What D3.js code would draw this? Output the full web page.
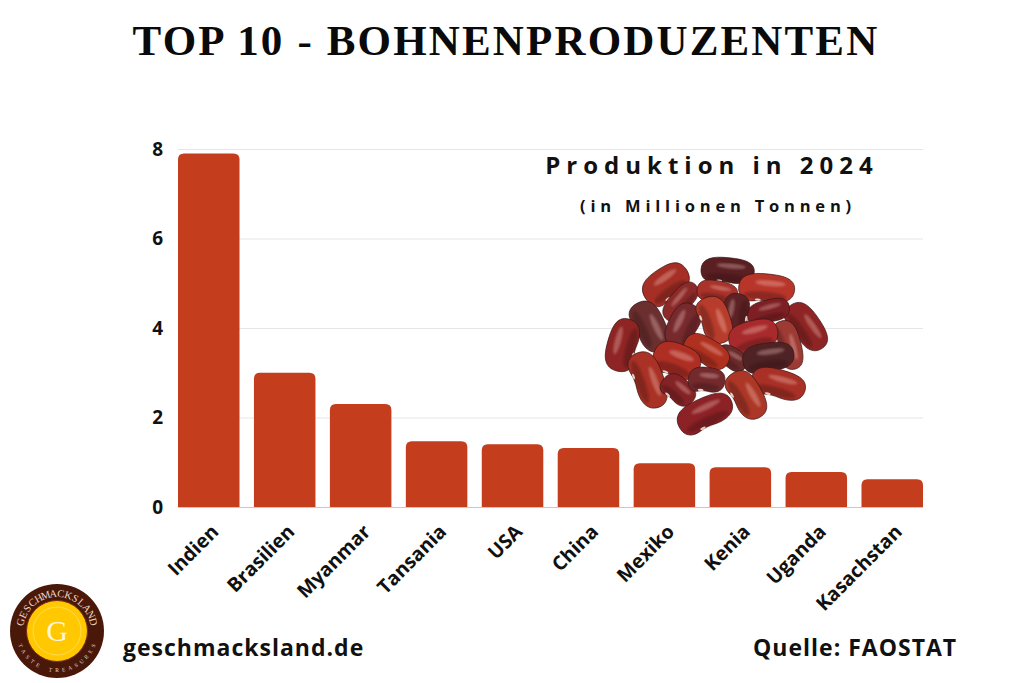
<!DOCTYPE html>
<html>
<head>
<meta charset="utf-8">
<script src="https://d3js.org/d3.v7.min.js"></script>
<style>
  html, body { margin: 0; background: #fff; }
  svg { display: block; }
  .tick-x text, .tick-y text { font-family: "Open Sans", sans-serif; font-weight: 700; fill: #111; }
  .os { font-family: "Open Sans", sans-serif; font-weight: 700; fill: #111; }
</style>
</head>
<body>
<div id="chart"></div>
<script>
/* DATA */
const countries = ["Indien", "Brasilien", "Myanmar", "Tansania", "USA", "China", "Mexiko", "Kenia", "Uganda", "Kasachstan"];
const production = [7.9, 3.0, 2.3, 1.47, 1.4, 1.32, 0.98, 0.89, 0.78, 0.62];
const yTicks = [0, 2, 4, 6, 8];

// bean picture: x, y, length, thickness, angle, colour (back to front)
const beans = [
  [413, 92, 160, 72, 5, "#5a1f22"], [228, 132, 150, 90, -35, "#a52f25"], [530, 145, 168, 80, 5, "#b8352a"],
  [272, 185, 135, 62, -50, "#8c2a2a"], [382, 155, 122, 60, 10, "#a9322a"], [180, 260, 160, 85, 65, "#6b2f30"],
  [98, 315, 160, 85, -75, "#8e2424"], [650, 260, 160, 80, 55, "#8e2424"], [535, 215, 130, 65, -15, "#7d1f24"],
  [595, 315, 150, 70, 75, "#9d3a34"], [438, 215, 110, 75, -80, "#5e2225"], [280, 258, 140, 85, -65, "#772a2d"],
  [375, 240, 145, 85, 70, "#b83c2b"], [490, 288, 150, 85, -15, "#a82a2c"], [425, 355, 100, 60, 30, "#6b2a2c"],
  [535, 352, 155, 80, -8, "#4f2225"], [350, 335, 145, 75, 30, "#b0301f"], [260, 362, 145, 95, 20, "#ae2e24"],
  [175, 420, 175, 85, 70, "#a93125"], [265, 450, 110, 70, 40, "#842326"], [350, 420, 110, 70, 5, "#742a2d"],
  [565, 432, 165, 80, 15, "#a93026"], [470, 465, 155, 85, 60, "#ad3727"], [345, 520, 175, 85, -25, "#8c2126"]
];

/* CONSTANTS */
const width = 1024, height = 683;
const margin = { top: 149, bottom: 176, left: 178, right: 101 };
const barColor = "#c43d1c";

const svg = d3.select("#chart").append("svg").attr("width", width).attr("height", height);
const defs = svg.append("defs");
defs.append("filter").attr("id", "soft").append("feGaussianBlur").attr("stdDeviation", 3);

/* SCALES */
const xScale = d3.scaleBand().domain(countries)
  .range([margin.left, width - margin.right]).paddingInner(0.19).paddingOuter(0);
const yScale = d3.scaleLinear().domain([0, 8]).range([height - margin.bottom, margin.top]);

/* TITLE */
svg.append("text").attr("x", 506).attr("y", 55).attr("text-anchor", "middle")
  .attr("font-family", "'Liberation Serif', serif").attr("font-weight", 700)
  .attr("font-size", 43).attr("letter-spacing", 2.15).attr("fill", "#0a0a0a")
  .text("TOP 10 - BOHNENPRODUZENTEN");

/* AXES */
const yAxis = d3.axisLeft(yScale).tickValues(yTicks).tickSize(-(width - margin.left - margin.right)).tickPadding(15);
const yG = svg.append("g").attr("class", "tick-y").attr("transform", `translate(${margin.left},0)`).call(yAxis);
yG.select(".domain").remove();
yG.selectAll("line").attr("stroke", d => d === 0 ? "#c8c8c8" : "#e6e6e6").attr("stroke-width", d => d === 0 ? 1.2 : 1);
yG.selectAll("text").attr("font-size", 19);

const xAxis = d3.axisBottom(xScale).tickSize(0).tickPadding(0);
const xG = svg.append("g").attr("class", "tick-x").attr("transform", `translate(0,${height - margin.bottom})`).call(xAxis);
xG.select(".domain").remove();
xG.selectAll("text").attr("font-size", 19.5).attr("text-anchor", "end").attr("dy", 0)
  .attr("transform", "translate(11,26) rotate(-45)");

/* BARS */
const rTop = 6;
svg.append("g").selectAll("path").data(production).join("path")
  .attr("fill", barColor)
  .attr("d", (d, i) => {
    const x0 = xScale(countries[i]), x1 = x0 + xScale.bandwidth(), y0 = yScale(0), y1 = yScale(d);
    return `M${x0},${y0}V${y1 + rTop}Q${x0},${y1} ${x0 + rTop},${y1}H${x1 - rTop}Q${x1},${y1} ${x1},${y1 + rTop}V${y0}Z`;
  });

/* CHART HEADINGS */
svg.append("text").attr("class", "os").attr("x", 712).attr("y", 174).attr("text-anchor", "middle")
  .attr("font-size", 24).attr("letter-spacing", 6).text("Produktion in 2024");
svg.append("text").attr("class", "os").attr("x", 718).attr("y", 212).attr("text-anchor", "middle")
  .attr("font-size", 16.5).attr("letter-spacing", 4.8).text("(in Millionen Tonnen)");

/* BEANS */
const beanPath = (l, t) => {
  const a = l / 2, b = t / 2;
  return `M${-a},${b * 0.05}C${-a},${-b * 0.8} ${-a * 0.6},${-b} ${-a * 0.1},${-b}` +
    `C${a * 0.5},${-b} ${a},${-b * 0.9} ${a},${-b * 0.05}` +
    `C${a},${b * 0.8} ${a * 0.55},${b} ${a * 0.15},${b * 0.9}` +
    `C${-a * 0.05},${b * 0.84} ${-a * 0.2},${b * 0.84} ${-a * 0.4},${b * 0.93}` +
    `C${-a * 0.75},${b * 1.08} ${-a},${b * 0.75} ${-a},${b * 0.05}Z`;
};
const beanG = svg.append("g").attr("transform", "translate(590,240) scale(0.3333)");
const bean = beanG.selectAll("g").data(beans).join("g")
  .attr("transform", d => `translate(${d[0]},${d[1]}) rotate(${d[4]})`);
bean.append("path").attr("d", d => beanPath(d[2], d[3] * 1.08)).attr("fill", d => d[5])
  .attr("stroke", "#3c1415").attr("stroke-width", 2);
bean.append("ellipse").attr("cx", d => -d[2] * 0.02).attr("cy", d => d[3] * 0.3)
  .attr("rx", d => d[2] * 0.38).attr("ry", d => d[3] * 0.17)
  .attr("fill", "#2a0a0c").attr("opacity", 0.3).attr("filter", "url(#soft)");
bean.append("ellipse").attr("cx", d => d[2] * 0.06).attr("cy", d => -d[3] * 0.2)
  .attr("rx", d => d[2] * 0.27).attr("ry", d => d[3] * 0.11)
  .attr("fill", "#ffd9cf").attr("opacity", 0.3).attr("filter", "url(#soft)");
bean.append("ellipse").attr("cx", d => -d[2] * 0.14).attr("cy", d => d[3] * 0.45)
  .attr("rx", 9).attr("ry", 3.5).attr("fill", "#f4ece0").attr("opacity", 0.85);

/* LOGO */
const logo = svg.append("g").attr("transform", "translate(57,631)");
logo.append("circle").attr("r", 47).attr("fill", "#4a1809");
logo.append("circle").attr("r", 30.5).attr("fill", "#ffc800").attr("stroke", "#7e2e12").attr("stroke-width", 1);
logo.append("circle").attr("r", 24).attr("fill", "none").attr("stroke", "#ffe68a").attr("stroke-width", 0.6);
logo.append("text").attr("y", 10).attr("text-anchor", "middle").attr("font-family", "'Liberation Serif', serif")
  .attr("font-size", 30).attr("fill", "#fff6d8").text("G");

// ring lettering, one glyph at a time so it follows the circle
const ringTop = "GESCHMACKSLAND".split("");
const ringBottom = "TASTE TREASURES".split("");
logo.selectAll("text.top").data(ringTop).join("text").attr("class", "top")
  .attr("text-anchor", "middle").attr("font-family", "'Liberation Serif', serif").attr("font-size", 10.5).attr("fill", "#e9d9c8")
  .attr("transform", (d, i) => `rotate(${-76 + i * 152 / (ringTop.length - 1)}) translate(0,-34)`)
  .text(d => d);
logo.selectAll("text.bottom").data(ringBottom).join("text").attr("class", "bottom")
  .attr("text-anchor", "middle").attr("font-family", "'Liberation Serif', serif").attr("font-size", 5.5).attr("fill", "#e9d9c8")
  .attr("transform", (d, i) => `rotate(${68 - i * 136 / (ringBottom.length - 1)}) translate(0,41)`)
  .text(d => d);

/* FOOTER */
svg.append("text").attr("class", "os").attr("x", 123).attr("y", 656).attr("font-size", 23).attr("letter-spacing", 1).text("geschmacksland.de");
svg.append("text").attr("class", "os").attr("x", 753).attr("y", 656).attr("font-size", 23).attr("letter-spacing", 1).text("Quelle: FAOSTAT");
</script>
</body>
</html>
